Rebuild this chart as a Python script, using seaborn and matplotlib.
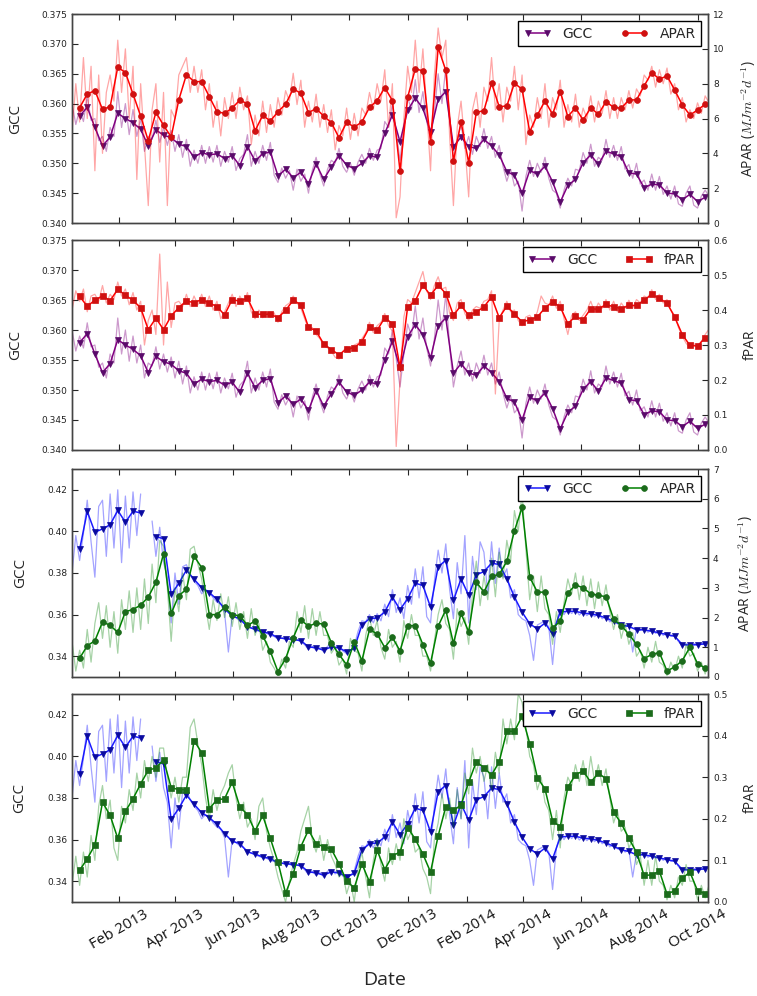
import numpy as np
import pandas as pd
import matplotlib
matplotlib.use("Agg")
import matplotlib.pyplot as plt
import matplotlib.dates as mdates
import seaborn as sns

nan = np.nan

# 8-day composites (markers) and the noisy series read every 4 days
mk_dates = pd.date_range("2012-12-22", periods=83, freq="8D")
raw_dates = pd.date_range("2012-12-14", periods=168, freq="4D")

# ---- site 1 (top two panels) ----
gcc_site1 = [0.3579, 0.3594, 0.3560, 0.3529, 0.3544, 0.3584, 0.3575, 0.3568, 0.3557, 0.3529,
             0.3556, 0.3547, 0.3543, 0.3532, 0.3528, 0.3510, 0.3518, 0.3514, 0.3516, 0.3508,
             0.3513, 0.3496, 0.3528, 0.3504, 0.3516, 0.3519, 0.3479, 0.3490, 0.3476, 0.3485,
             0.3466, 0.3499, 0.3473, 0.3494, 0.3513, 0.3497, 0.3491, 0.3500, 0.3513, 0.3510,
             0.3550, 0.3581, 0.3536, 0.3589, 0.3609, 0.3592, 0.3553, 0.3607, 0.3620, 0.3528,
             0.3544, 0.3528, 0.3525, 0.3540, 0.3529, 0.3514, 0.3486, 0.3480, 0.3450, 0.3488,
             0.3482, 0.3495, 0.3469, 0.3435, 0.3463, 0.3473, 0.3501, 0.3514, 0.3498, 0.3520,
             0.3516, 0.3511, 0.3484, 0.3482, 0.3459, 0.3465, 0.3464, 0.3450, 0.3449, 0.3439,
             0.3448, 0.3436, 0.3443]
gcc_site1_raw = [0.3600, 0.3565, 0.3590, 0.3570, 0.3612, 0.3572, 0.3575, 0.3538, 0.3545, 0.3520,
                 0.3560, 0.3545, 0.3620, 0.3560, 0.3600, 0.3548, 0.3590, 0.3545, 0.3575, 0.3520,
                 0.3545, 0.3540, 0.3572, 0.3535, 0.3560, 0.3530, 0.3555, 0.3520, 0.3548, 0.3510,
                 0.3540, 0.3495, 0.3522, 0.3500, 0.3530, 0.3500, 0.3528, 0.3502, 0.3530, 0.3495,
                 0.3520, 0.3502, 0.3528, 0.3488, 0.3508, 0.3515, 0.3548, 0.3495, 0.3520, 0.3500,
                 0.3530, 0.3505, 0.3535, 0.3480, 0.3468, 0.3492, 0.3475, 0.3488, 0.3455, 0.3490,
                 0.3470, 0.3482, 0.3450, 0.3488, 0.3510, 0.3482, 0.3462, 0.3490, 0.3505, 0.3500,
                 0.3525, 0.3495, 0.3485, 0.3500, 0.3480, 0.3502, 0.3515, 0.3500, 0.3525, 0.3505,
                 0.3522, 0.3525, 0.3570, 0.3560, 0.3600, 0.3552, 0.3505, 0.3560, 0.3610, 0.3590,
                 0.3640, 0.3585, 0.3620, 0.3570, 0.3540, 0.3585, 0.3650, 0.3600, 0.3660, 0.3575,
                 0.3505, 0.3540, 0.3565, 0.3525, 0.3545, 0.3515, 0.3545, 0.3528, 0.3558, 0.3525,
                 0.3545, 0.3510, 0.3530, 0.3495, 0.3470, 0.3490, 0.3462, 0.3470, 0.3420, 0.3478,
                 0.3505, 0.3478, 0.3500, 0.3485, 0.3510, 0.3475, 0.3455, 0.3450, 0.3425, 0.3455,
                 0.3475, 0.3462, 0.3490, 0.3488, 0.3518, 0.3500, 0.3532, 0.3495, 0.3510, 0.3505,
                 0.3540, 0.3510, 0.3530, 0.3505, 0.3528, 0.3490, 0.3498, 0.3475, 0.3500, 0.3465,
                 0.3472, 0.3455, 0.3482, 0.3455, 0.3478, 0.3448, 0.3462, 0.3440, 0.3462, 0.3432,
                 0.3428, 0.3450, 0.3462, 0.3430, 0.3425, 0.3445, 0.3455, 0.3445]

apar_site1 = [6.62, 7.41, 7.60, 6.53, 6.68, 8.95, 8.64, 7.41, 6.14, 4.72,
              6.36, 5.61, 4.94, 7.07, 8.52, 8.12, 8.12, 7.26, 6.39, 6.30,
              6.60, 7.06, 6.84, 5.30, 6.18, 5.86, 6.39, 6.82, 7.70, 7.45,
              6.34, 6.57, 6.14, 5.76, 4.90, 5.78, 5.51, 5.80, 6.64, 7.03,
              7.78, 7.03, 2.98, 7.22, 8.85, 8.74, 4.67, 10.08, 8.76, 3.55,
              5.82, 3.46, 6.36, 6.45, 8.03, 6.68, 6.72, 8.03, 7.68, 5.24,
              6.20, 7.01, 6.24, 7.55, 6.11, 6.62, 5.91, 6.62, 6.24, 6.97,
              6.64, 6.59, 7.07, 7.07, 7.87, 8.64, 8.26, 8.45, 7.64, 6.78,
              6.20, 6.49, 6.82]
apar_site1_raw = [5.2, 8.0, 5.8, 9.5, 6.0, 9.0, 3.0, 8.5, 4.0, 7.5,
                  8.5, 7.0, 10.5, 7.5, 10.0, 6.0, 9.0, 2.5, 8.0, 4.5,
                  1.0, 6.5, 8.0, 3.5, 7.5, 1.0, 6.5, 6.0, 8.5, 9.0,
                  9.5, 7.5, 9.0, 7.5, 8.8, 6.5, 8.0, 5.5, 7.0, 5.0,
                  7.2, 6.0, 7.5, 6.0, 7.8, 6.5, 7.3, 4.5, 6.2, 5.0,
                  7.0, 5.2, 6.8, 5.5, 7.2, 6.2, 7.6, 7.0, 8.6, 6.8,
                  8.2, 5.5, 7.0, 5.8, 7.4, 5.5, 6.8, 5.2, 6.5, 4.2,
                  5.6, 5.0, 6.6, 4.8, 6.3, 5.0, 6.6, 6.2, 7.5, 6.5,
                  8.0, 7.0, 8.8, 5.5, 8.0, 0.3, 1.5, 6.0, 9.0, 7.5,
                  10.5, 7.5, 10.0, 6.5, 3.0, 8.5, 11.2, 9.5, 10.5, 5.0,
                  1.0, 5.5, 7.0, 4.5, 1.5, 6.5, 7.5, 5.5, 7.8, 7.0,
                  9.5, 6.5, 8.0, 5.8, 7.8, 7.0, 9.0, 6.5, 8.5, 4.5,
                  6.2, 5.5, 7.2, 6.0, 8.0, 5.5, 7.2, 6.5, 8.2, 5.5,
                  6.8, 5.8, 7.4, 5.5, 6.6, 6.0, 7.3, 5.8, 7.0, 6.3,
                  7.6, 6.0, 7.2, 6.0, 7.2, 6.5, 7.6, 6.6, 7.7, 7.3,
                  8.5, 8.2, 9.0, 7.8, 8.8, 8.0, 8.9, 7.4, 8.0, 6.5,
                  7.2, 5.8, 6.5, 6.0, 6.9, 6.3, 7.3, 6.9]

fpar_site1 = [0.439, 0.411, 0.428, 0.440, 0.427, 0.459, 0.442, 0.428, 0.406, 0.344,
              0.377, 0.344, 0.383, 0.407, 0.426, 0.421, 0.430, 0.420, 0.410, 0.386,
              0.430, 0.425, 0.434, 0.388, 0.388, 0.388, 0.378, 0.399, 0.428, 0.415,
              0.351, 0.340, 0.303, 0.287, 0.272, 0.289, 0.292, 0.310, 0.351, 0.342,
              0.378, 0.361, 0.236, 0.409, 0.426, 0.471, 0.442, 0.471, 0.447, 0.385,
              0.413, 0.385, 0.394, 0.409, 0.437, 0.378, 0.411, 0.389, 0.366, 0.372,
              0.380, 0.406, 0.423, 0.409, 0.361, 0.382, 0.372, 0.404, 0.402, 0.416,
              0.409, 0.404, 0.413, 0.413, 0.428, 0.445, 0.433, 0.420, 0.380, 0.330,
              0.299, 0.297, 0.321]
fpar_site1_raw = [0.400, 0.455, 0.425, 0.460, 0.395, 0.440, 0.445, 0.425, 0.470, 0.420,
                  0.445, 0.430, 0.480, 0.440, 0.460, 0.415, 0.450, 0.400, 0.425, 0.300,
                  0.370, 0.400, 0.330, 0.560, 0.300, 0.480, 0.350, 0.420, 0.425, 0.410,
                  0.445, 0.410, 0.440, 0.415, 0.445, 0.410, 0.440, 0.400, 0.425, 0.375,
                  0.395, 0.420, 0.445, 0.410, 0.440, 0.420, 0.450, 0.395, 0.375, 0.400,
                  0.378, 0.395, 0.380, 0.392, 0.365, 0.395, 0.412, 0.420, 0.440, 0.420,
                  0.405, 0.375, 0.345, 0.350, 0.330, 0.318, 0.298, 0.292, 0.282, 0.265,
                  0.260, 0.282, 0.295, 0.288, 0.300, 0.305, 0.318, 0.335, 0.365, 0.335,
                  0.355, 0.365, 0.390, 0.355, 0.340, 0.010, 0.200, 0.380, 0.430, 0.420,
                  0.450, 0.480, 0.510, 0.455, 0.430, 0.470, 0.495, 0.460, 0.465, 0.390,
                  0.370, 0.420, 0.430, 0.390, 0.370, 0.400, 0.410, 0.405, 0.425, 0.430,
                  0.455, 0.160, 0.370, 0.400, 0.425, 0.395, 0.400, 0.370, 0.355, 0.380,
                  0.385, 0.370, 0.395, 0.440, 0.420, 0.415, 0.440, 0.405, 0.425, 0.375,
                  0.330, 0.385, 0.395, 0.370, 0.385, 0.400, 0.425, 0.395, 0.420, 0.405,
                  0.430, 0.400, 0.425, 0.395, 0.420, 0.405, 0.428, 0.405, 0.430, 0.420,
                  0.440, 0.435, 0.458, 0.430, 0.445, 0.420, 0.430, 0.400, 0.385, 0.350,
                  0.325, 0.305, 0.292, 0.305, 0.290, 0.310, 0.330, 0.345]

# ---- site 2 (bottom two panels) ----
gcc_site2 = [0.3913, 0.4096, 0.3996, 0.4012, 0.4032, 0.4101, 0.4044, 0.4097, 0.4089, nan,
             0.3975, 0.3965, 0.3697, 0.3750, 0.3814, 0.3770, 0.3729, 0.3706, 0.3673, 0.3629,
             0.3592, 0.3581, 0.3541, 0.3530, 0.3517, 0.3509, 0.3488, 0.3485, 0.3480, 0.3475,
             0.3445, 0.3440, 0.3429, 0.3445, 0.3440, 0.3421, 0.3437, 0.3550, 0.3580, 0.3584,
             0.3612, 0.3684, 0.3624, 0.3676, 0.3751, 0.3740, 0.3636, 0.3831, 0.3860, 0.3668,
             0.3772, 0.3692, 0.3791, 0.3807, 0.3847, 0.3841, 0.3772, 0.3684, 0.3612, 0.3556,
             0.3531, 0.3559, 0.3507, 0.3612, 0.3616, 0.3616, 0.3607, 0.3604, 0.3596, 0.3584,
             0.3568, 0.3551, 0.3543, 0.3527, 0.3527, 0.3520, 0.3512, 0.3504, 0.3496, 0.3456,
             0.3453, 0.3456, 0.3459]
gcc_site2_raw = [0.3800, 0.3980, 0.3860, 0.3990, 0.4150, 0.3950, 0.3780, 0.4120, 0.4150, 0.3880,
                 0.4180, 0.3920, 0.4200, 0.3850, 0.4170, 0.3920, 0.4190, 0.3980, 0.4180, nan,
                 nan, 0.4050, 0.3880, 0.4020, 0.3850, 0.3780, 0.3560, 0.3800, 0.3650, 0.3830,
                 0.3840, 0.3790, 0.3760, 0.3740, 0.3700, 0.3720, 0.3710, 0.3680, 0.3660, 0.3650,
                 0.3610, 0.3420, 0.3600, 0.3585, 0.3570, 0.3560, 0.3545, 0.3535, 0.3525, 0.3520,
                 0.3512, 0.3510, 0.3500, 0.3495, 0.3482, 0.3488, 0.3478, 0.3482, 0.3472, 0.3478,
                 0.3470, 0.3455, 0.3432, 0.3448, 0.3428, 0.3442, 0.3420, 0.3448, 0.3455, 0.3435,
                 0.3450, 0.3425, 0.3412, 0.3428, 0.3450, 0.3520, 0.3570, 0.3565, 0.3600, 0.3560,
                 0.3605, 0.3570, 0.3650, 0.3590, 0.3720, 0.3610, 0.3680, 0.3580, 0.3740, 0.3650,
                 0.3820, 0.3680, 0.3830, 0.3590, 0.3560, 0.3760, 0.3910, 0.3800, 0.3940, 0.3720,
                 0.3580, 0.3850, 0.3700, 0.3980, 0.3560, 0.3880, 0.3720, 0.3950, 0.3900, 0.3700,
                 0.3950, 0.3750, 0.3920, 0.3780, 0.3820, 0.3680, 0.3720, 0.3600, 0.3580, 0.3570,
                 0.3500, 0.3380, 0.3550, 0.3560, 0.3570, 0.3540, 0.3360, 0.3560, 0.3625, 0.3600,
                 0.3628, 0.3605, 0.3625, 0.3598, 0.3615, 0.3595, 0.3612, 0.3590, 0.3605, 0.3580,
                 0.3592, 0.3565, 0.3575, 0.3555, 0.3560, 0.3540, 0.3550, 0.3420, 0.3535, 0.3525,
                 0.3535, 0.3515, 0.3528, 0.3510, 0.3520, 0.3500, 0.3512, 0.3495, 0.3502, 0.3470,
                 0.3450, 0.3460, 0.3448, 0.3462, 0.3450, 0.3465, 0.3455, 0.3475]

apar_site2 = [0.63, 1.05, 1.22, 1.85, 1.74, 1.50, 2.20, 2.27, 2.42, 2.69,
              3.19, 4.15, 2.14, 2.74, 2.95, 4.07, 3.68, 2.10, 2.10, 2.34,
              2.10, 2.06, 1.74, 1.88, 1.39, 0.86, 0.18, 0.62, 1.32, 1.92,
              1.71, 1.81, 1.78, 1.15, 0.76, 0.41, 1.18, 0.55, 1.60, 1.45,
              0.99, 1.33, 0.88, 1.73, 1.73, 1.09, 0.46, 1.71, 2.26, 1.13,
              2.14, 1.52, 3.19, 2.86, 3.39, 3.45, 3.89, 4.92, 5.71, 3.36,
              2.86, 2.85, 1.64, 1.88, 2.82, 3.10, 3.00, 2.80, 2.75, 2.70,
              1.95, 1.73, 1.44, 1.10, 0.62, 0.76, 0.82, 0.20, 0.34, 0.55,
              1.00, 0.45, 0.30]
apar_site2_raw = [1.2, 0.2, 0.9, 0.3, 1.6, 0.5, 1.8, 2.5, 1.3, 2.4,
                  1.0, 2.2, 0.8, 2.6, 1.6, 2.9, 1.5, 3.0, 1.6, 3.3,
                  1.8, 3.8, 2.5, 4.6, 4.4, 3.0, 1.2, 3.0, 2.2, 3.5,
                  2.6, 4.3, 4.4, 3.8, 3.3, 2.4, 1.6, 2.6, 1.9, 2.8,
                  2.0, 2.7, 1.7, 2.5, 1.6, 2.2, 1.3, 2.3, 1.4, 1.8,
                  0.9, 1.2, 0.5, 0.3, 0.05, 0.6, 0.3, 1.2, 1.0, 2.2,
                  1.5, 2.4, 1.3, 2.3, 1.4, 2.2, 1.4, 1.4, 0.8, 1.0,
                  0.4, 0.6, 0.1, 1.3, 0.9, 0.8, 0.2, 1.4, 2.0, 1.4,
                  1.9, 1.0, 0.6, 1.6, 1.0, 1.2, 0.5, 1.9, 1.3, 2.1,
                  1.4, 1.4, 0.7, 0.7, 0.2, 1.2, 2.1, 2.6, 1.8, 1.6,
                  0.6, 2.3, 1.7, 2.0, 1.1, 2.8, 3.9, 2.4, 3.4, 2.6,
                  4.0, 2.7, 4.2, 3.3, 4.6, 3.9, 5.6, 4.9, 6.2, 4.3,
                  2.6, 3.4, 2.2, 3.4, 2.3, 2.1, 1.1, 2.2, 1.5, 2.5,
                  3.3, 2.8, 3.5, 2.6, 3.4, 2.4, 3.3, 2.3, 3.2, 2.4,
                  3.1, 2.2, 1.6, 2.1, 1.3, 1.8, 1.1, 1.5, 0.7, 0.9,
                  0.3, 1.0, 0.5, 1.2, 0.5, 0.4, 0.05, 0.5, 0.2, 0.7,
                  0.3, 1.1, 0.7, 0.8, 0.2, 0.5, 0.1, 0.5]

fpar_site2 = [0.076, 0.104, 0.137, 0.240, 0.208, 0.153, 0.218, 0.248, 0.284, 0.317,
              0.322, 0.342, 0.275, 0.270, 0.270, 0.388, 0.359, 0.224, 0.246, 0.248,
              0.288, 0.229, 0.210, 0.170, 0.208, 0.153, 0.096, 0.021, 0.068, 0.133,
              0.173, 0.140, 0.133, 0.127, 0.092, 0.050, 0.034, 0.092, 0.048, 0.124,
              0.078, 0.111, 0.120, 0.179, 0.151, 0.115, 0.072, 0.159, 0.229, 0.220,
              0.233, 0.288, 0.337, 0.323, 0.305, 0.337, 0.411, 0.410, 0.447, 0.381,
              0.299, 0.272, 0.195, 0.181, 0.276, 0.306, 0.315, 0.288, 0.310, 0.296,
              0.216, 0.189, 0.153, 0.119, 0.064, 0.065, 0.074, 0.019, 0.027, 0.057,
              0.072, 0.027, 0.020]
fpar_site2_raw = [0.040, 0.110, 0.040, 0.120, 0.060, 0.160, 0.100, 0.230, 0.280, 0.200,
                  0.245, 0.130, 0.100, 0.230, 0.190, 0.270, 0.220, 0.310, 0.250, 0.340,
                  0.290, 0.350, 0.300, 0.370, 0.370, 0.300, 0.250, 0.300, 0.240, 0.300,
                  0.300, 0.420, 0.440, 0.380, 0.330, 0.250, 0.200, 0.270, 0.220, 0.260,
                  0.280, 0.310, 0.330, 0.250, 0.200, 0.240, 0.180, 0.200, 0.150, 0.230,
                  0.250, 0.170, 0.130, 0.100, 0.060, 0.030, 0.000, 0.050, 0.090, 0.120,
                  0.170, 0.200, 0.230, 0.150, 0.120, 0.160, 0.100, 0.150, 0.110, 0.090,
                  0.060, 0.070, 0.020, 0.050, 0.000, 0.080, 0.120, 0.060, 0.010, 0.100,
                  0.150, 0.090, 0.050, 0.130, 0.090, 0.140, 0.100, 0.200, 0.150, 0.170,
                  0.120, 0.130, 0.080, 0.060, 0.020, 0.150, 0.190, 0.260, 0.200, 0.250,
                  0.180, 0.270, 0.200, 0.310, 0.260, 0.370, 0.310, 0.350, 0.290, 0.330,
                  0.270, 0.360, 0.310, 0.440, 0.380, 0.440, 0.390, 0.500, 0.480, 0.420,
                  0.350, 0.330, 0.270, 0.300, 0.240, 0.220, 0.150, 0.220, 0.130, 0.250,
                  0.300, 0.280, 0.330, 0.290, 0.340, 0.280, 0.350, 0.290, 0.330, 0.280,
                  0.320, 0.250, 0.190, 0.220, 0.170, 0.180, 0.130, 0.150, 0.090, 0.110,
                  0.040, 0.100, 0.040, 0.110, 0.050, 0.040, 0.005, 0.040, 0.010, 0.060,
                  0.040, 0.090, 0.050, 0.050, 0.005, 0.040, 0.010, 0.040]

apar_label = "APAR ($MJm^{-2}d^{-1}$)"


def trace(ax, dates, vals, color, **kw):
    # split at gaps so seaborn does not join across missing values
    d = pd.DataFrame({"date": dates, "v": vals})
    d["seg"] = d["v"].isna().cumsum()
    d = d.dropna()
    sns.lineplot(data=d, x="date", y="v", units="seg", estimator=None,
                 color=color, ax=ax, legend=False, **kw)
    return ax.lines[-1]


def panel(rect, gcc, gcc_raw, gcol, gmcol, other, other_raw, ocol, omcol, omark, oname,
          gylim, gticks, gfmt, oylim, oticks, ofmt, olabel, glabel_x, olabel_x, bottom):
    ax = fig.add_axes(rect)
    ax2 = ax.twinx()
    trace(ax, raw_dates, gcc_raw, gcol, alpha=0.4, linewidth=0.9)
    h1 = trace(ax, mk_dates, gcc, gcol, linewidth=1.1, marker="v", markersize=5,
               markerfacecolor=gmcol, markeredgecolor=gmcol, markeredgewidth=0.5)
    trace(ax2, raw_dates, other_raw, ocol, alpha=0.35, linewidth=0.9)
    h2 = trace(ax2, mk_dates, other, ocol, linewidth=1.1, marker=omark, markersize=4.2,
               markerfacecolor=omcol, markeredgecolor=omcol, markeredgewidth=0.5)

    ax.set_xlim(pd.Timestamp("2012-12-14"), pd.Timestamp("2014-10-12"))
    ax.set_ylim(*gylim)
    ax.set_yticks(gticks)
    ax.set_yticklabels([gfmt % t for t in gticks])
    ax2.set_ylim(*oylim)
    ax2.set_yticks(oticks)
    ax2.set_yticklabels([ofmt % t for t in oticks])
    ax.xaxis.set_major_locator(mdates.MonthLocator(bymonth=(2, 4, 6, 8, 10, 12)))
    ax.xaxis.set_major_formatter(mdates.DateFormatter("%b %Y"))

    ax.tick_params(axis="both", direction="in", length=4, width=0.8, labelsize=6.5,
                   labelcolor="#222222", top=True, labelbottom=bottom)
    ax2.tick_params(axis="y", direction="in", length=4, width=0.8, labelsize=6.5,
                    labelcolor="#222222")
    for a in (ax, ax2):
        for s in a.spines.values():
            s.set_color("#444444")
            s.set_linewidth(1.0)

    ax.set_xlabel("")
    ax.set_ylabel("GCC", fontsize=11, family="Open Sans")
    ax.yaxis.set_label_coords(glabel_x, 0.5)
    ax2.set_ylabel(olabel, fontsize=10, family="Open Sans")
    ax2.yaxis.set_label_coords(olabel_x, 0.5)

    leg = ax2.legend([h1, h2], ["GCC", oname], loc="upper right", ncol=2, numpoints=2,
                     fontsize=10, fancybox=False, framealpha=1, edgecolor="black",
                     borderaxespad=0.5)
    leg.get_frame().set_linewidth(1.0)
    return ax


sns.set_style("ticks")
plt.rcParams["mathtext.fontset"] = "cm"
plt.rcParams["font.family"] = ["DejaVu Sans"]

fig = plt.figure(figsize=(7.57, 9.96), dpi=100)
L, W = 0.0951, 0.8402

panel([L, 0.7761, W, 0.2098], gcc_site1, gcc_site1_raw, "purple", "#5a0a6a",
      apar_site1, apar_site1_raw, "red", "#d01010", "o", "APAR",
      (0.340, 0.375), [0.340, 0.345, 0.350, 0.355, 0.360, 0.365, 0.370, 0.375], "%.3f",
      (0, 12), [0, 2, 4, 6, 8, 10, 12], "%d", apar_label, -0.077, 1.050, False)

panel([L, 0.5482, W, 0.2108], gcc_site1, gcc_site1_raw, "purple", "#5a0a6a",
      fpar_site1, fpar_site1_raw, "red", "#d01010", "s", "fPAR",
      (0.340, 0.375), [0.340, 0.345, 0.350, 0.355, 0.360, 0.365, 0.370, 0.375], "%.3f",
      (0, 0.6), [0.0, 0.1, 0.2, 0.3, 0.4, 0.5, 0.6], "%.1f", "fPAR", -0.077, 1.054, False)

panel([L, 0.3203, W, 0.2088], gcc_site2, gcc_site2_raw, "#1a1aff", "#0a0aa0",
      apar_site2, apar_site2_raw, "green", "#1b6b1b", "o", "APAR",
      (0.33, 0.43), [0.34, 0.36, 0.38, 0.40, 0.42], "%.2f",
      (0, 7), [0, 1, 2, 3, 4, 5, 6, 7], "%d", apar_label, -0.069, 1.045, False)

ax4 = panel([L, 0.0944, W, 0.2088], gcc_site2, gcc_site2_raw, "#1a1aff", "#0a0aa0",
            fpar_site2, fpar_site2_raw, "green", "#1b6b1b", "s", "fPAR",
            (0.33, 0.43), [0.34, 0.36, 0.38, 0.40, 0.42], "%.2f",
            (0, 0.5), [0.0, 0.1, 0.2, 0.3, 0.4, 0.5], "%.1f", "fPAR", -0.070, 1.054, True)

for lbl in ax4.get_xticklabels():
    lbl.set_rotation(30)
    lbl.set_ha("center")
    lbl.set_fontsize(11)
    lbl.set_family("Open Sans")
    lbl.set_color("#111111")

fig.text(0.508, 0.016, "Date", ha="center", va="center", fontsize=14, family="Open Sans")

fig.savefig("out.png", dpi=100)
